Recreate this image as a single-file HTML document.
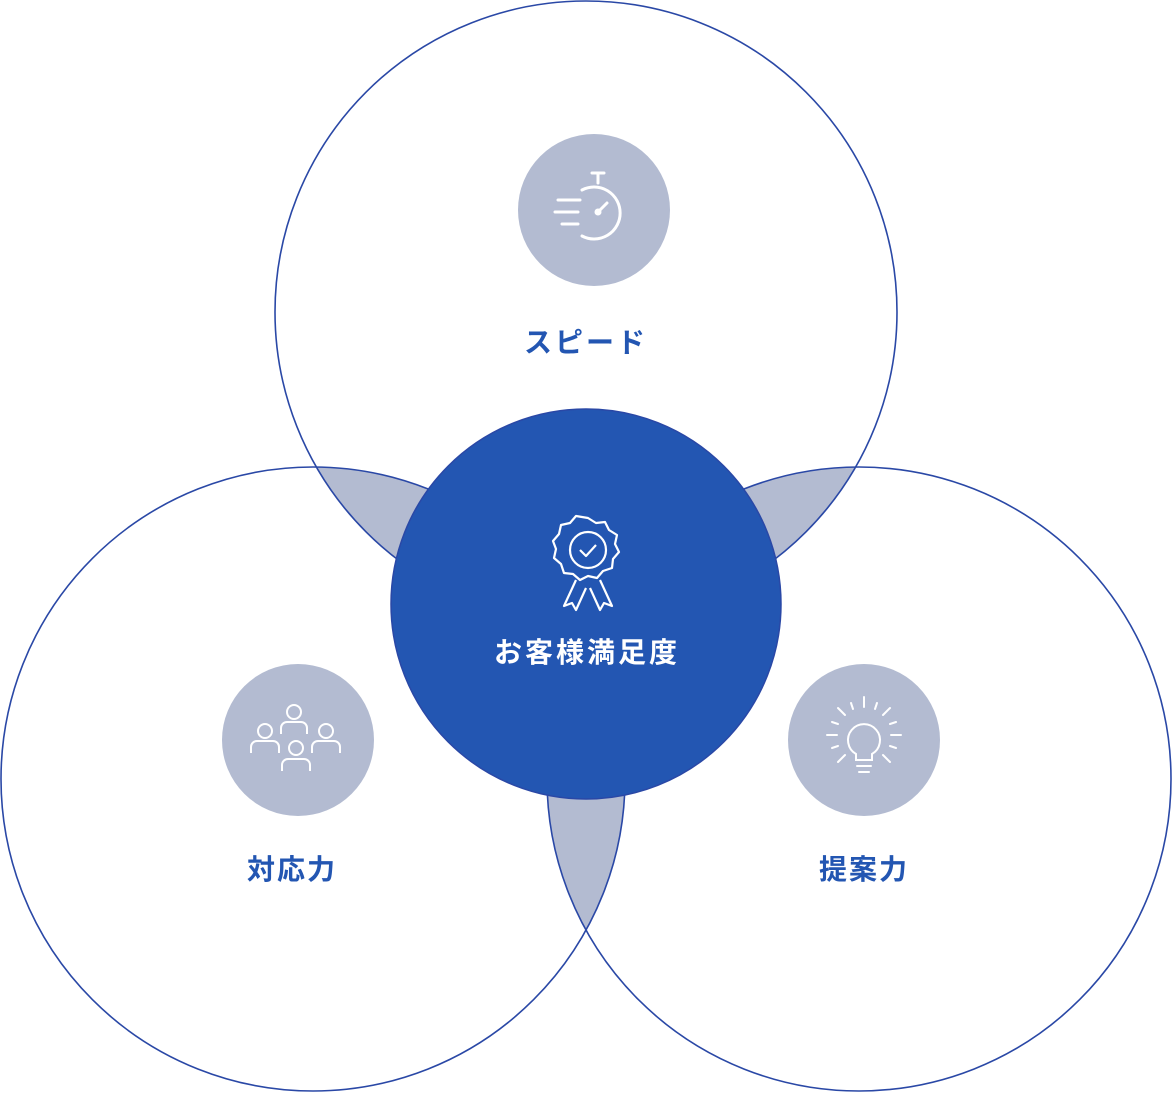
<!DOCTYPE html>
<html><head><meta charset="utf-8"><style>
html,body{margin:0;padding:0;background:#fff;}
svg{display:block;}
text{font-family:"Liberation Sans","Noto Sans CJK JP",sans-serif;font-weight:700;}
</style></head><body>
<svg width="1172" height="1094" viewBox="0 0 1172 1094" xmlns="http://www.w3.org/2000/svg">
<defs>
<clipPath id="cT"><circle cx="586" cy="312" r="311"/></clipPath>
<clipPath id="cL"><circle cx="313" cy="779" r="312"/></clipPath>
</defs>
<g fill="#b3bbd1">
<circle cx="313" cy="779" r="312" clip-path="url(#cT)"/>
<circle cx="859" cy="779" r="312" clip-path="url(#cT)"/>
<circle cx="859" cy="779" r="312" clip-path="url(#cL)"/>
</g>
<g fill="none" stroke="#2a48a6" stroke-width="1.6">
<circle cx="586" cy="312" r="311"/>
<circle cx="313" cy="779" r="312"/>
<circle cx="859" cy="779" r="312"/>
</g>
<circle cx="586" cy="604" r="195" fill="#2356b2" stroke="#2a48a6" stroke-width="1.5"/>
<circle cx="594" cy="210" r="76" fill="#b3bbd1"/>
<circle cx="298" cy="740" r="76" fill="#b3bbd1"/>
<circle cx="864" cy="740" r="76" fill="#b3bbd1"/>
<g fill="none" stroke="#fff" stroke-width="3" stroke-linecap="round">
<path d="M582 190 A26 26 0 1 1 582 236"/>
<line x1="592" y1="173" x2="604" y2="173"/><line x1="598" y1="173" x2="598" y2="183"/>
<line x1="558" y1="200" x2="580" y2="200"/><line x1="555" y1="212" x2="578" y2="212"/><line x1="562" y1="224" x2="578" y2="224"/>
<line x1="598" y1="212" x2="607" y2="203"/>
</g>
<circle cx="598" cy="212" r="3.5" fill="#fff"/>
<g fill="none" stroke="#fff" stroke-width="2">
<circle cx="294" cy="712" r="7"/><path d="M281 734 v-6 a6 6 0 0 1 6 -6 h14 a6 6 0 0 1 6 6 v6"/>
<circle cx="265" cy="731" r="7"/><path d="M251 753 v-6 a6 6 0 0 1 6 -6 h16 a6 6 0 0 1 6 6 v6"/>
<circle cx="326" cy="731" r="7"/><path d="M312 753 v-6 a6 6 0 0 1 6 -6 h16 a6 6 0 0 1 6 6 v6"/>
<circle cx="296" cy="748" r="7"/><path d="M282 771 v-6 a6 6 0 0 1 6 -6 h16 a6 6 0 0 1 6 6 v6"/>
</g>
<g fill="none" stroke="#fff" stroke-width="2" stroke-linecap="round">
<path d="M856 760 v-6 a16 16 0 1 1 16 0 v6 z"/>
<line x1="857" y1="766" x2="871" y2="766"/><line x1="859" y1="772" x2="869" y2="772"/>
<line x1="864" y1="697" x2="864" y2="707"/>
<line x1="838" y1="708" x2="845" y2="715"/><line x1="890" y1="708" x2="883" y2="715"/>
<line x1="827" y1="735" x2="837" y2="735"/><line x1="891" y1="735" x2="901" y2="735"/>
<line x1="838" y1="762" x2="845" y2="755"/><line x1="890" y1="762" x2="883" y2="755"/>
<line x1="851" y1="703" x2="853" y2="709"/><line x1="877" y1="703" x2="875" y2="709"/>
<line x1="832" y1="722" x2="838" y2="724"/><line x1="896" y1="722" x2="890" y2="724"/>
<line x1="832" y1="748" x2="838" y2="746"/><line x1="896" y1="748" x2="890" y2="746"/>
</g>
<g fill="none" stroke="#fff" stroke-width="2.2" stroke-linejoin="round">
<path d="M588 518 l8 5 l9 -1 l4 8 l8 5 l-2 9 l4 8 l-6 7 l-1 9 l-9 3 l-6 7 l-9 -2 l-8 4 l-7 -6 l-9 -1 l-3 -9 l-7 -6 l2 -9 l-3 -8 l6 -7 l2 -9 l9 -2 l6 -7 z"/>
<circle cx="588" cy="550" r="18"/>
<path d="M580 550 l6 6 l10 -11"/>
<path d="M576 580 l-12 26 l8 -3 l4 7 l10 -22"/>
<path d="M600 580 l12 26 l-8 -3 l-4 7 l-10 -22"/>
</g>
<text x="586" y="352" font-size="28" fill="#2356b2" text-anchor="middle" letter-spacing="3">スピード</text>
<text x="292" y="879" font-size="28" fill="#2356b2" text-anchor="middle" letter-spacing="2">対応力</text>
<text x="864" y="879" font-size="28" fill="#2356b2" text-anchor="middle" letter-spacing="2">提案力</text>
<text x="587" y="662" font-size="28" fill="#fff" text-anchor="middle" letter-spacing="3">お客様満足度</text>
</svg>
</body></html>
